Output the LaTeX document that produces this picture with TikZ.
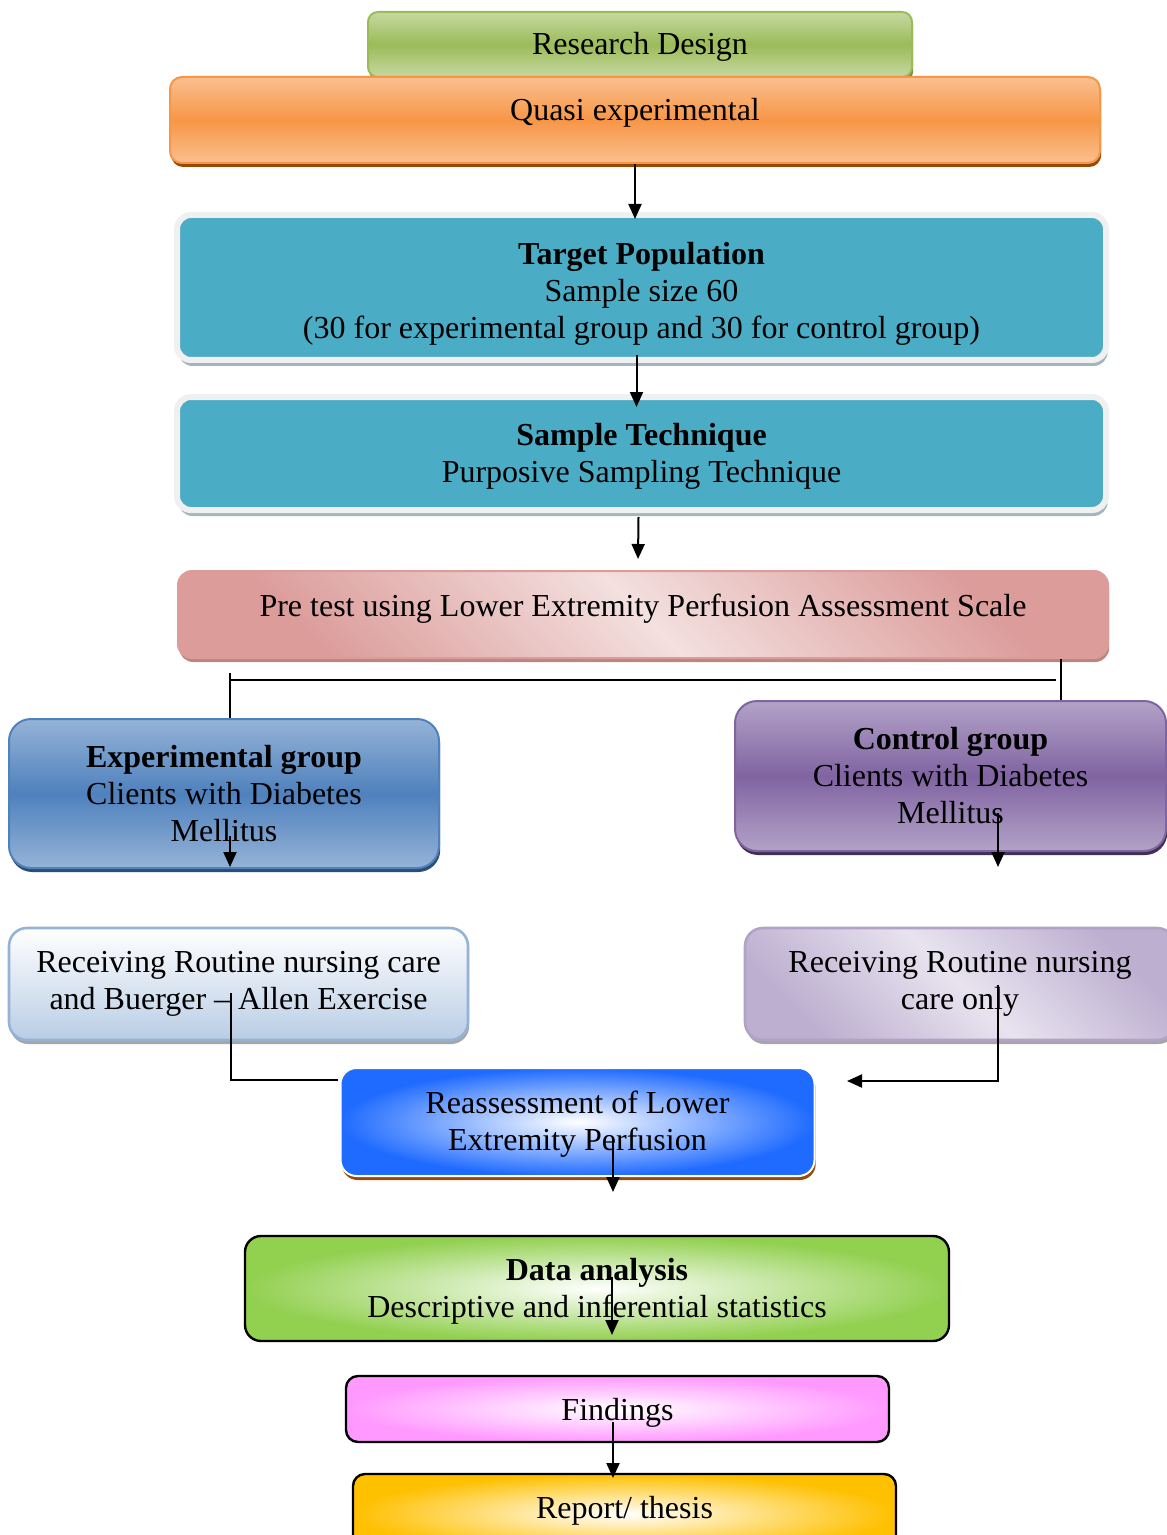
\documentclass[tikz,border=0pt]{standalone}
\usepackage{fontspec}
\setmainfont{Liberation Serif}
\usetikzlibrary{arrows.meta,shadows,calc}
\definecolor{rdM}{HTML}{9BBB59}
\definecolor{rdL}{HTML}{C6D9A0}
\definecolor{qeM}{HTML}{F79646}
\definecolor{qeL}{HTML}{FAC090}
\definecolor{qeS}{HTML}{984807}
\definecolor{teal}{HTML}{4BACC6}
\definecolor{frameG}{HTML}{F0F0F0}
\definecolor{tealS}{HTML}{A3B6BE}
\definecolor{pkD}{HTML}{DB9C9A}
\definecolor{pkL}{HTML}{F3E0DF}
\definecolor{egM}{HTML}{4F81BD}
\definecolor{egL}{HTML}{95B3D7}
\definecolor{egS}{HTML}{2C4D75}
\definecolor{cgM}{HTML}{8064A2}
\definecolor{cgL}{HTML}{B3A2C7}
\definecolor{cgS}{HTML}{3F3151}
\definecolor{reB}{HTML}{B9CDE5}
\definecolor{lvD}{HTML}{BCAFD0}
\definecolor{lvL}{HTML}{E8E3EF}
\definecolor{raB}{HTML}{1F6BFF}
\definecolor{daG}{HTML}{92D050}
\definecolor{fiP}{HTML}{FF99FF}
\definecolor{rpO}{HTML}{FFC000}
\newcommand{\tx}[2]{\raisebox{#1}[\height][\depth]{\begin{tabular}{@{}c@{}}#2\end{tabular}}}
\begin{document}
\begin{tikzpicture}[x=0.5pt,y=-0.5pt,
  box/.style={rounded corners=7pt, align=center, inner sep=0pt,
    font=\fontsize{16}{18.5}\selectfont, text=black},
  shad/.style={drop shadow={shadow xshift=0.6pt,shadow yshift=-2pt,fill=#1,opacity=1}},
  tshad/.style={drop shadow={shadow xshift=0.8pt,shadow yshift=-3pt,fill=#1,opacity=1}},
  arr/.style={-{Triangle[length=7.5pt,width=6.5pt]}, line width=1pt},
  ln/.style={line width=1pt}]
\useasboundingbox (0,0) rectangle (1166,1535);

% boxes
\node[box, rounded corners=5pt, minimum width=272pt, minimum height=32.5pt, draw=rdM, line width=1pt,
  top color=rdL, bottom color=rdL, middle color=rdM, shad=rdM!75!black] (rd) at (640,44.5)
  {\tx{-1.5pt}{Research Design}};
\node[box, rounded corners=6pt, minimum width=465pt, minimum height=43pt, draw=qeM, line width=1pt,
  top color=qeL, bottom color=qeL, middle color=qeM, shad=qeS] (qe) at (635,120)
  {\tx{3.5pt}{Quasi experimental}};
\node[box, minimum width=464.5pt, minimum height=72.5pt, draw=frameG, line width=3pt,
  fill=teal, tshad=tealS] (tp) at (641.5,287.5)
  {\tx{-3.5pt}{\textbf{Target Population}\\Sample size 60\\(30 for experimental group and 30 for control group)}};
\node[box, minimum width=464.5pt, minimum height=56.5pt, draw=frameG, line width=3pt,
  fill=teal, tshad=tealS] (st) at (641.5,453.5)
  {\tx{-1.5pt}{\textbf{Sample Technique}\\Purposive Sampling Technique}};
\node[box, minimum width=465pt, minimum height=43.5pt, draw=pkD, line width=1pt,
  top color=pkD, bottom color=pkD, middle color=pkL, shading angle=-45, shad=pkD!85!black] (pt) at (643,614.5)
  {\tx{2.5pt}{Pre test using Lower Extremity Perfusion Assessment Scale}};
\node[box, rounded corners=11pt, minimum width=215pt, minimum height=74.5pt, draw=egM, line width=1pt,
  top color=egL, bottom color=egL, middle color=egM, shad=egS] (eg) at (224,793.5)
  {\tx{-2pt}{\textbf{Experimental group}\\Clients with Diabetes\\Mellitus}};
\node[box, rounded corners=11pt, minimum width=215.5pt, minimum height=75pt, draw=cgM, line width=1pt,
  top color=cgL, bottom color=cgL, middle color=cgM, shad=cgS] (cg) at (950.5,776)
  {\tx{-1.5pt}{\textbf{Control group}\\Clients with Diabetes\\Mellitus}};
\node[box, rounded corners=9pt, minimum width=229.5pt, minimum height=56pt, draw=egL, line width=1.3pt,
  top color=white, bottom color=reB, shad=gray!70] (re) at (238.5,984)
  {\tx{0pt}{Receiving Routine nursing care\\and Buerger -- Allen Exercise}};
\node[box, rounded corners=9pt, minimum width=215pt, minimum height=56pt, draw=cgL, line width=1.3pt,
  top color=lvD, bottom color=lvD, middle color=lvL, shading angle=-45, shad=gray!70] (rc) at (960,984)
  {\tx{0pt}{Receiving Routine nursing\\care only}};
\node[box, rounded corners=8pt, minimum width=237pt, minimum height=54pt, draw=white, line width=1pt,
  inner color=white, outer color=raB, shad=qeS] (ra) at (577.5,1122)
  {\tx{-1.2pt}{Reassessment of Lower\\Extremity Perfusion}};
\node[box, rounded corners=8pt, minimum width=352pt, minimum height=52.5pt, draw=black, line width=1.2pt,
  inner color=white, outer color=daG] (da) at (597,1288.5)
  {\tx{-1.7pt}{\textbf{Data analysis}\\Descriptive and inferential statistics}};
\node[box, rounded corners=6pt, minimum width=271.5pt, minimum height=33pt, draw=black, line width=1.2pt,
  inner color=white, outer color=fiP] (fi) at (617.5,1409)
  {\tx{-2pt}{Findings}};
\node[box, rounded corners=6pt, minimum width=271.5pt, minimum height=40pt, draw=black, line width=1.2pt,
  inner color=white, outer color=rpO] (rp) at (624.5,1514)
  {\tx{1.5pt}{Report/ thesis}};

% connectors
\draw[arr] (qe.south) -- ($(qe.south |- tp.north)+(0,7)$);
\draw[arr] ($(tp.south)+(-5,-8)$) -- ($(st.north)+(-5,13)$);
\draw[arr] ($(st.south)+(-3,4)$) -- ($(pt.north)+(-5,-11)$);

\coordinate (sR) at ($(pt.south east)+(-48,0)$);
\draw[ln] (sR) -- (sR |- cg.north);
\coordinate (hL) at (230,680);
\coordinate (hR) at (1056,680);
\draw[ln] (hL) -- (hR);
\draw[ln] ($(hL)+(0,-7)$) -- (hL |- eg.north);

\draw[arr] ($(eg.south)+(6,-33)$) -- ($(eg.south)+(6,-2)$);
\draw[arr] ($(cg.south)+(47.5,-39)$) -- ($(cg.south)+(47.5,15)$);

\coordinate (reS) at ($(re.center)+(-7.5,9)$);
\coordinate (raW) at ($(ra.north west)+(-2,13)$);
\draw[ln] (reS) |- (raW);
\coordinate (rcS) at ($(rc.center)+(38,1)$);
\coordinate (raE) at ($(ra.north east)+(31.5,14)$);
\draw[arr] (rcS) |- (raE);

\draw[arr] ($(ra.center)+(35.5,18)$) -- ($(ra.south)+(35.5,15)$);
\draw[arr] ($(da.center)+(15,-11.5)$) -- ($(da.center)+(15,46.5)$);
\draw[arr] ($(fi.center)+(-4.5,13)$) -- ($(fi.center)+(-4.5,69)$);
\end{tikzpicture}
\end{document}
